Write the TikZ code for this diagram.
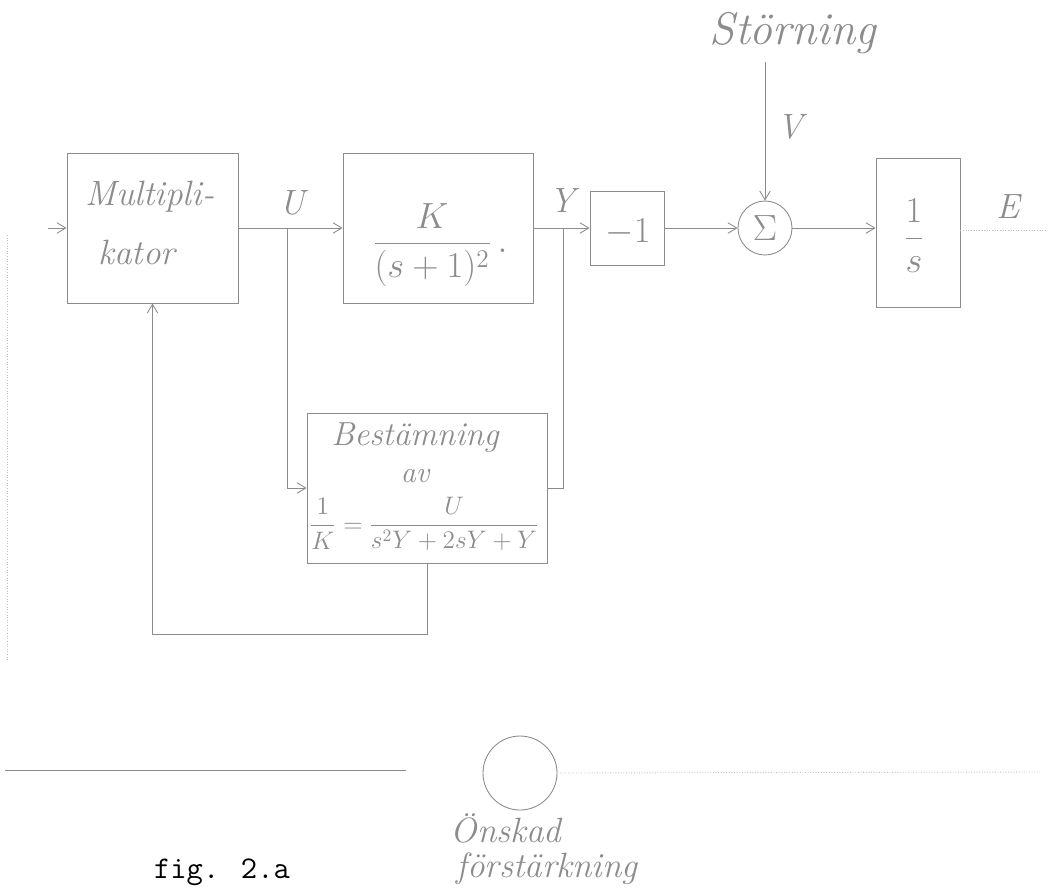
\documentclass[tikz,border=0pt]{standalone}
\usepackage{amsmath}
\usetikzlibrary{arrows.meta,fit}
\definecolor{pencil}{gray}{0.55}
\definecolor{pencilfaint}{gray}{0.75}
\begin{document}
\begin{tikzpicture}[x=0.02cm,y=-0.02cm,
  line/.style={draw=pencil,line width=0.5pt},
  faint/.style={draw=pencilfaint,line width=0.5pt,densely dotted},
  arr/.style={line,-{Straight Barb[length=5pt,width=6pt]}},
  blk/.style={draw=pencil,line width=0.5pt,inner sep=0pt},
  hand/.style={text=pencil,font=\itshape\fontsize{20}{24}\selectfont,inner sep=0pt},
  handbig/.style={text=pencil,font=\itshape\fontsize{26}{30}\selectfont,inner sep=0pt},
  handmath/.style={text=pencil,font=\fontsize{20}{24}\selectfont,inner sep=0pt},
  handsmall/.style={text=pencil,font=\fontsize{14}{17}\selectfont,inner sep=0pt}]
\useasboundingbox (0,0) rectangle (1051,890);

% blocks
\node[blk,fit={(67,153) (238,303)}] (mult) {};
\node[blk,fit={(343,153) (533,303)}] (kbox) {};
\node[blk,fit={(590,191) (664,265)}] (neg) {};
\node[blk,fit={(876,158) (960,307)}] (integ) {};
\node[blk,fit={(307,413) (547,563)}] (best) {};
\node[draw=pencil,line width=0.5pt,circle,minimum size=54*0.02cm,inner sep=0pt] (sum) at (765,228) {};
\node[draw=pencil,line width=0.5pt,circle,minimum size=74*0.02cm,inner sep=0pt] (des) at (520,773) {};

% block texts
\node[hand] (tmult1) at (150,197) {Multipli-};
\node[hand] (tmult2) at (137,252) {kator};
\node[handmath] (tk) at (440,245) {$\dfrac{K}{(s+1)^2}\,.$};
\node[handmath] (tneg) at (628,232) {$-1$};
\node[handmath] (tsum) at (sum) {$\Sigma$};
\node[handmath] (tint) at (914,236) {$\dfrac{1}{s}$};
\node[hand,font=\itshape\fontsize{19}{22}\selectfont] (tbest1) at (415,437) {Bestämning};
\node[hand,font=\itshape\fontsize{17}{20}\selectfont] (tbest2) at (415,476) {av};
\node[handsmall] (tbest3) at (336,524) {$\dfrac{1}{K}=$};
\node[handsmall] (tbest4) at (454,524) {$\dfrac{U}{s^2Y+2sY+Y}$};

% signal labels
\node[hand] (lu) at (292,203) {U};
\node[hand] (ly) at (562,200) {Y};
\node[hand] (lv) at (790,127) {V};
\node[hand] (le) at (1008,207) {E};
\node[handbig] (lst) at (793,33) {Störning};
\node[hand] (lon1) at (506,828) {Önskad};
\node[hand] (lon2) at (547,869) {förstärkning};
\node[font=\ttfamily\fontsize{18}{21}\selectfont,inner sep=0pt] (fig) at (222,872) {fig. 2.a};

% coordinates
\coordinate (in) at (48,228);
\coordinate (ub) at (287,228);
\coordinate (yb) at (563,228);
\coordinate (vtop) at (765,62);
\coordinate (eout) at (1045,230);
\coordinate (fb) at (427,634);
\coordinate (bl) at (5,770);
\coordinate (blr) at (406,770);
\coordinate (br) at (1040,772);
\coordinate (lt) at (7,235);
\coordinate (lb) at (7,660);

% connectors
\draw[arr] (in) -- (mult.west);
\draw[arr] (mult.east) -- (kbox.west);
\draw[arr] (ub) |- (best.west);
\draw[arr] (kbox.east) -- (neg.west);
\draw[line] (yb) |- (best.east);
\draw[arr] (neg.east) -- (sum.west);
\draw[arr] (vtop) -- (sum.north);
\draw[arr] (sum.east) -- (sum.east -| integ.west);
\draw[faint] (integ.east |- eout) -- (eout);
\draw[arr] (best.south) -- (fb) -| (mult.south);
\draw[line] (bl) -- (blr);
\draw[faint] (des.east) -- (br);
\draw[faint] (lt) -- (lb);
\end{tikzpicture}
\end{document}
